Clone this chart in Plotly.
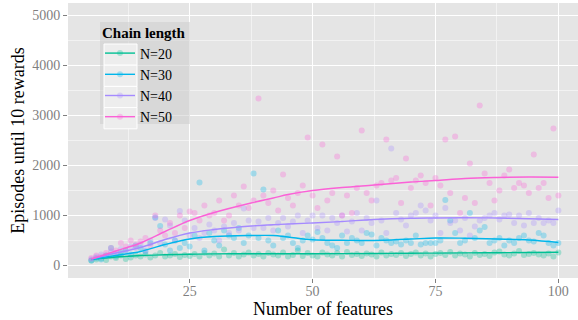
import plotly.graph_objects as go

features = list(range(5, 101))

n20 = [100, 120, 140, 110, 180, 150, 200, 130, 160, 200,
       180, 220, 160, 200, 250, 180, 200, 230, 170, 210,
       190, 230, 180, 250, 200, 240, 180, 320, 200, 250,
       180, 220, 260, 200, 230, 180, 250, 220, 200, 260,
       180, 210, 300, 190, 250, 200, 180, 260, 220, 200,
       250, 180, 270, 210, 230, 190, 240, 220, 180, 260,
       200, 230, 210, 250, 190, 230, 260, 200, 240, 180,
       230, 250, 210, 270, 200, 240, 220, 180, 250, 210,
       230, 190, 260, 280, 220, 200, 240, 290, 210, 230,
       250, 220, 200, 240, 180, 260]
n30 = [100, 150, 120, 200, 350, 180, 250, 300, 220, 400,
       350, 280, 450, 960, 790, 420, 300, 500, 350, 450,
       380, 600, 1660, 300, 650, 500, 400, 700, 600, 550,
       750, 450, 600, 1840, 550, 1520, 500, 400, 700, 550,
       600, 450, 350, 500, 600, 520, 670, 550, 450, 400,
       350, 600, 450, 550, 500, 450, 650, 620, 400, 550,
       500, 450, 480, 420, 500, 450, 600, 420, 450, 450,
       450, 500, 1310, 900, 650, 450, 500, 1050, 550, 700,
       770, 450, 500, 550, 400, 500, 450, 550, 600, 500,
       480, 650, 600, 450, 400, 450]
n40 = [130, 180, 220, 200, 280, 250, 330, 300, 380, 350,
       420, 300, 500, 950, 450, 920, 800, 500, 1090, 900,
       600, 750, 550, 650, 820, 700, 500, 780, 650, 850,
       700, 1140, 900, 750, 880, 750, 950, 700, 850, 950,
       780, 880, 1000, 650, 900, 1000, 750, 1000, 700, 950,
       850, 1000, 680, 880, 1050, 700, 950, 850, 1300, 900,
       650, 2340, 1050, 920, 800, 1000, 1050, 1200, 1100, 900,
       1000, 650, 1150, 850, 900, 700, 950, 600, 780, 900,
       950, 1000, 1050, 920, 1000, 1020, 850, 1000, 800, 1050,
       850, 950, 850, 900, 850, 1100]
n50 = [150, 200, 180, 250, 350, 300, 450, 380, 500, 420,
       480, 550, 400, 1000, 700, 600, 850, 650, 1000, 750,
       1080, 1050, 900, 1200, 1000, 1050, 1300, 900, 1000, 1400,
       1200, 1580, 1150, 1300, 3340, 1400, 1250, 1500, 1100, 1820,
       1350, 1200, 1450, 1600, 2560, 1400, 1150, 2420, 1300, 1450,
       2180, 1000, 1400, 1050, 1550, 2700, 1450, 1300, 1600, 1650,
       2520, 1700, 1750, 1250, 2140, 1550, 1700, 1800, 1650, 1200,
       1750, 1600, 2520, 1450, 2580, 1050, 1350, 2040, 1250, 3200,
       1840, 1650, 1300, 1500, 1800, 1920, 1550, 1650, 1600, 1450,
       2220, 1550, 1650, 1350, 2740, 1400]

smooth_x = [5, 10, 15, 20, 25, 30, 37.5, 42, 45, 50, 56, 62.5, 70, 75, 81, 87.5, 94, 100]
smooth20 = [125, 170, 200, 215, 225, 232, 235, 235, 235, 235, 238, 240, 245, 248, 252, 256, 260, 265]
smooth30 = [120, 200, 280, 420, 530, 580, 600, 600, 570, 515, 505, 500, 530, 550, 545, 530, 510, 460]
smooth40 = [130, 250, 360, 520, 650, 720, 790, 815, 830, 850, 880, 920, 945, 950, 955, 950, 935, 920]
smooth50 = [130, 290, 450, 680, 900, 1060, 1250, 1350, 1420, 1500, 1560, 1610, 1670, 1700, 1740, 1760, 1770, 1766]

names = ["N=20", "N=30", "N=40", "N=50"]
colors = ["#00C094", "#00B6EB", "#A58AFF", "#FB61D7"]
points = [n20, n30, n40, n50]
smooths = [smooth20, smooth30, smooth40, smooth50]

SERIF = "Liberation Serif, Times New Roman, serif"

def rgba(hexc, a):
    h = hexc.lstrip("#")
    r, g, b = int(h[0:2], 16), int(h[2:4], 16), int(h[4:6], 16)
    return f"rgba({r},{g},{b},{a})"

fig = go.Figure()
for name, col, pts in zip(names, colors, points):
    fig.add_trace(go.Scatter(x=features, y=pts, mode="markers", showlegend=False,
                             marker=dict(size=6, color=rgba(col, 0.3), line=dict(width=0)),
                             legendgroup=name, hoverinfo="skip"))
for name, col, sm in zip(names, colors, smooths):
    fig.add_trace(go.Scatter(x=smooth_x, y=sm, mode="lines", line_shape="spline",
                             showlegend=False, line=dict(color=col, width=1.4),
                             legendgroup=name))
for name, col in zip(names, colors):
    fig.add_trace(go.Scatter(x=[None], y=[None], mode="lines+markers", name=name,
                             legendgroup=name,
                             line=dict(color=col, width=1.4),
                             marker=dict(size=6, color=rgba(col, 0.3))))

L, T, W, H = 68, 3, 510, 275
def px(xp):
    return (xp - L) / W
def py(yp):
    return (T + H - yp) / H

LEG_TOP = 18
shapes = [dict(type="rect", xref="paper", yref="paper", x0=px(100), x1=px(190),
               y0=py(124), y1=py(22), fillcolor="rgba(205,205,205,0.55)", line=dict(width=0),
               layer="above")]
item_y0 = 44
item_h = 21.2
for i in range(4):
    shapes.append(dict(type="rect", xref="paper", yref="paper", x0=px(104), x1=px(137),
                       y0=py(item_y0 + (i + 1) * item_h), y1=py(item_y0 + i * item_h),
                       fillcolor="#EDEDED", line=dict(width=1, color="white"), layer="above"))

fig.update_layout(
    width=578, height=320,
    margin=dict(l=L, r=0, t=T, b=320 - T - H, autoexpand=False),
    paper_bgcolor="white", plot_bgcolor="#E5E5E5",
    font=dict(family=SERIF, color="black"),
    shapes=shapes,
    legend=dict(x=px(100), y=py(LEG_TOP), xanchor="left", yanchor="top",
                bgcolor="rgba(0,0,0,0)", borderwidth=0,
                font=dict(size=14, family=SERIF, color="black"),
                title=dict(text="Chain length",
                           font=dict(size=15, family=SERIF, color="black", weight="bold")),
                tracegroupgap=0),
    xaxis=dict(range=[0.25, 0.25 + W / 4.916], tickmode="linear", tick0=0, dtick=25,
               automargin=False,
               showgrid=True, gridcolor="white", gridwidth=1.2,
               minor=dict(dtick=12.5, showgrid=True, gridcolor="#F2F2F2", gridwidth=0.6),
               zeroline=False, showline=False,
               ticks="outside", ticklen=4, tickcolor="#7F7F7F", tickwidth=1,
               ticklabelstandoff=-4,
               tickfont=dict(size=14, color="#7F7F7F", family=SERIF),
               title=dict(text="Number of features", standoff=0,
                          font=dict(size=18, family=SERIF, color="black"))),
    yaxis=dict(range=[-250, 5250], tickmode="linear", tick0=0, dtick=1000,
               automargin=False,
               showgrid=True, gridcolor="white", gridwidth=1.2,
               minor=dict(dtick=500, showgrid=True, gridcolor="#F2F2F2", gridwidth=0.6),
               zeroline=False, showline=False,
               ticks="outside", ticklen=4, tickcolor="#7F7F7F", tickwidth=1,
               tickfont=dict(size=14, color="#7F7F7F", family=SERIF),
               title=dict(text="Episodes until 10 rewards", standoff=2,
                          font=dict(size=18, family=SERIF, color="black"))),
)

fig.write_html("out.html", config={"displayModeBar": False},
               post_script="document.body.style.margin='0px';")
